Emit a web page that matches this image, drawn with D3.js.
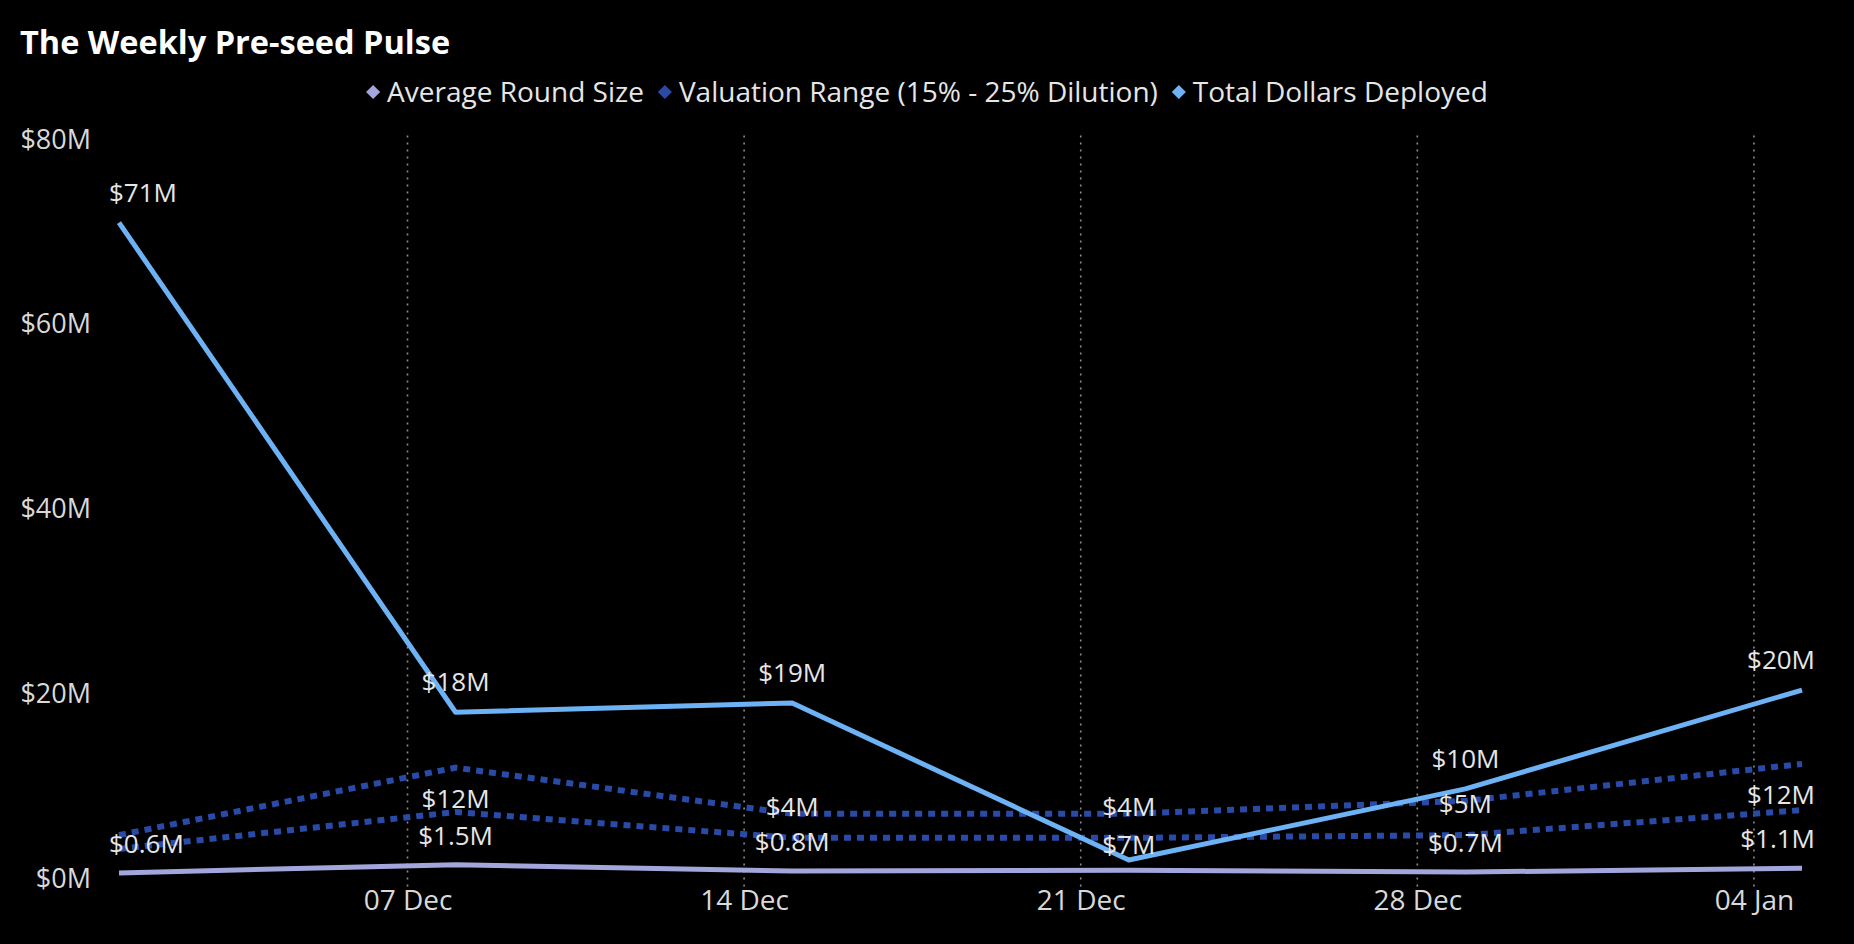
<!DOCTYPE html>
<html>
<head>
<meta charset="utf-8">
<script src="https://cdn.jsdelivr.net/npm/d3@7"></script>
<style>
  html, body { margin: 0; padding: 0; background: #000; }
  svg text { font-family: "Segoe UI", "Open Sans", sans-serif; }
</style>
</head>
<body>
<div id="chart"></div>
<script>
// --> DATA ($M)

var weeks = ["2024-12-01", "2024-12-08", "2024-12-15", "2024-12-22", "2024-12-29", "2025-01-05"];
var avgRoundSize = [0.6, 1.5, 0.8, 0.9, 0.7, 1.1];
var valuationHigh = [4.7, 12.0, 7.0, 7.0, 8.4, 12.4];
var valuationLow = [3.2, 7.2, 4.4, 4.4, 4.7, 7.4];
var totalDeployed = [71, 18, 19, 2.0, 9.7, 20.4];

// data labels as shown on the chart ("" = no label)
var totalLabels = ["$71M", "$18M", "$19M", "$7M", "$10M", "$20M"];
var avgLabels = ["$0.6M", "$1.5M", "$0.8M", "", "$0.7M", "$1.1M"];
var valHighLabels = ["", "$12M", "", "", "", "$12M"];
var valLowLabels = ["", "", "$4M", "$4M", "$5M", ""];

var xTicks = ["2024-12-07", "2024-12-14", "2024-12-21", "2024-12-28", "2025-01-04"];
var yTicks = [0, 20, 40, 60, 80];

var seriesNames = ["Average Round Size", "Valuation Range (15% - 25% Dilution)", "Total Dollars Deployed"];
var seriesColors = ["#a3a6dc", "#2a4aa8", "#6cb2f4"];

// --> CREATE SVG DRAWING AREA

var width = 1854, height = 944;
var plot = {left: 119, right: 1802, top: 139.5, bottom: 878.5, clipLeft: 109, clipRight: 1815};

var parse = d3.timeParse("%Y-%m-%d");
var dates = weeks.map(parse);

var x = d3.scaleTime()
    .domain([dates[0], dates[dates.length - 1]])
    .range([plot.left, plot.right]);

var y = d3.scaleLinear()
    .domain([0, 80])
    .range([plot.bottom, plot.top]);

var svg = d3.select("#chart").append("svg")
    .attr("width", width)
    .attr("height", height)
    .style("background", "#000");

// title
svg.append("text")
    .attr("x", 20)
    .attr("y", 54)
    .attr("fill", "#ffffff")
    .style("font-size", "32.5px")
    .style("font-weight", "bold")
    .text("The Weekly Pre-seed Pulse");

// legend, centred
var legend = svg.append("g");
var lx = 0;
seriesNames.forEach(function(name, i) {
    var item = legend.append("g").attr("transform", "translate(" + lx + ",0)");
    item.append("rect")
        .attr("x", -5).attr("y", -5)
        .attr("width", 10).attr("height", 10)
        .attr("transform", "rotate(45)")
        .attr("fill", seriesColors[i]);
    var t = item.append("text")
        .attr("x", 14)
        .attr("dy", "0.35em")
        .attr("fill", "#e6e6e6")
        .style("font-size", "28px")
        .text(name);
    lx += 14 + t.node().getComputedTextLength() + 21;
});
var legendWidth = lx - 21 + 7;
legend.attr("transform", "translate(" + (width / 2 - legendWidth / 2 + 7) + ",92)");

// vertical dotted gridlines
var tickDates = xTicks.map(parse);
svg.append("g").selectAll("line")
    .data(tickDates)
    .enter().append("line")
    .attr("x1", function(d) { return x(d); })
    .attr("x2", function(d) { return x(d); })
    .attr("y1", plot.top - 4)
    .attr("y2", plot.bottom + 8)
    .attr("stroke", "#8c8c8c")
    .attr("stroke-width", 1.6)
    .attr("stroke-dasharray", "2,5");

// axes
var xAxis = svg.append("g")
    .attr("transform", "translate(0," + plot.bottom + ")")
    .call(d3.axisBottom(x).tickValues(tickDates).tickFormat(d3.timeFormat("%d %b")).tickSize(0).tickPadding(12));
xAxis.select(".domain").remove();
xAxis.selectAll("text").attr("fill", "#d9d9d9").style("font-size", "28px");

var yAxis = svg.append("g")
    .attr("transform", "translate(91,0)")
    .call(d3.axisLeft(y).tickValues(yTicks).tickFormat(function(d) { return "$" + d + "M"; }).tickSize(0).tickPadding(0));
yAxis.select(".domain").remove();
yAxis.selectAll("text").attr("fill", "#d9d9d9").style("font-size", "27px");

// lines
function lineOf(values) {
    return d3.line()
        .x(function(d, i) { return x(dates[i]); })
        .y(function(d) { return y(d); })(values);
}

svg.append("path")
    .attr("d", lineOf(avgRoundSize))
    .attr("fill", "none")
    .attr("stroke", seriesColors[0])
    .attr("stroke-width", 5);

[valuationHigh, valuationLow].forEach(function(vals) {
    svg.append("path")
        .attr("d", lineOf(vals))
        .attr("fill", "none")
        .attr("stroke", seriesColors[1])
        .attr("stroke-width", 6)
        .attr("stroke-dasharray", "7,6");
});

svg.append("path")
    .attr("d", lineOf(totalDeployed))
    .attr("fill", "none")
    .attr("stroke", seriesColors[2])
    .attr("stroke-width", 5)
    .attr("stroke-linejoin", "round");

// data labels
var labelGroup = svg.append("g");
function addLabels(values, labels, dy, nudges) {
    labels.forEach(function(txt, i) {
        if (!txt) return;
        var t = labelGroup.append("text")
            .attr("x", x(dates[i]))
            .attr("y", y(values[i]) + dy + (nudges ? nudges[i] : 0))
            .attr("dy", "0.35em")
            .attr("text-anchor", "middle")
            .attr("fill", "#e6e6e6")
            .style("font-size", "26px")
            .text(txt);
        // keep labels inside the plot area
        var w = t.node().getComputedTextLength();
        var cx = Math.max(plot.clipLeft + w / 2, Math.min(plot.clipRight - w / 2, x(dates[i])));
        t.attr("x", cx);
    });
}

addLabels(totalDeployed, totalLabels, -30, [0, 0, 0, 15, 0, 0]);
addLabels(avgRoundSize, avgLabels, -29);
addLabels(valuationHigh, valHighLabels, 31);
addLabels(valuationLow, valLowLabels, -31);
</script>
</body>
</html>
